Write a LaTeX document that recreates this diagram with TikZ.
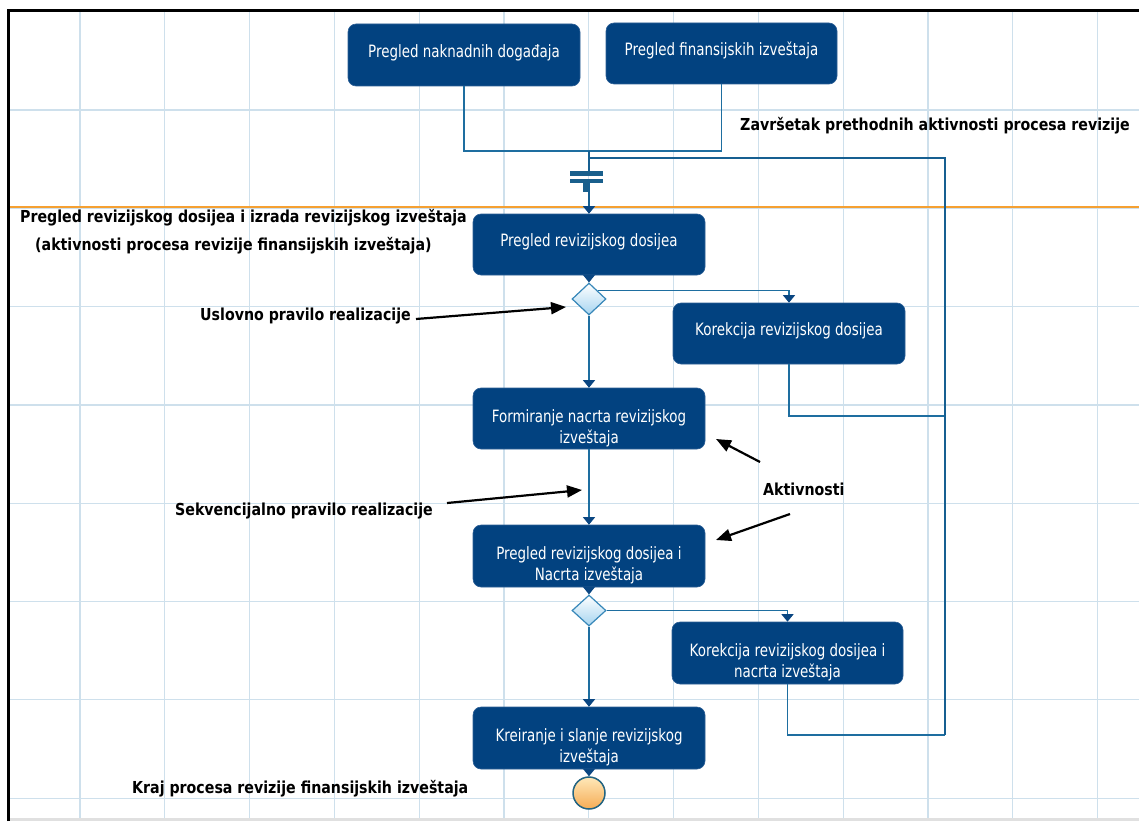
\documentclass[tikz,border=0pt]{standalone}
\usepackage{fontspec}
\usetikzlibrary{arrows.meta,shapes.geometric,calc}
\newfontfamily\nodefont[FakeStretch=0.79]{DejaVu Sans}
\newfontfamily\notefont[FakeStretch=0.86]{DejaVu Sans Bold}

% activity text, shifted vertically inside its box while keeping its size
\newcommand{\acttext}[2]{\raisebox{#1}[\height][\depth]{\begin{tabular}{@{}c@{}}#2\end{tabular}}}

\definecolor{actfill}{RGB}{2,66,128}
\definecolor{actedge}{RGB}{45,95,150}
\definecolor{flow}{RGB}{30,110,160}
\definecolor{rail}{RGB}{22,95,145}
\definecolor{tipc}{RGB}{10,70,130}
\definecolor{gridc}{RGB}{206,224,236}
\definecolor{lanec}{RGB}{245,160,50}
\definecolor{gatefill}{RGB}{165,212,240}
\definecolor{gateedge}{RGB}{55,135,185}
\definecolor{endtop}{RGB}{255,232,185}
\definecolor{endbot}{RGB}{245,172,85}
\definecolor{endedge}{RGB}{35,100,130}
\definecolor{syncc}{RGB}{25,95,140}

\tikzset{
  act/.style={rectangle, rounded corners=8pt, fill=actfill, draw=actedge,
    line width=0.6pt, text=white, align=center, inner sep=0pt,
    minimum width=232pt, minimum height=62pt,
    font=\nodefont\fontsize{17}{21}\selectfont},
  gate/.style={diamond, aspect=1.06, minimum width=34pt, minimum height=32pt,
    inner sep=0pt, top color=white, bottom color=gatefill, draw=gateedge,
    line width=1.2pt},
  endnode/.style={circle, minimum size=32pt, inner sep=0pt, top color=endtop,
    bottom color=endbot, draw=endedge, line width=1.5pt},
  flowline/.style={draw=flow, line width=1.1pt},
  railline/.style={draw=rail, line width=1.3pt},
  flowarrow/.style={flowline, -{Triangle[length=7.5pt,width=12pt,color=tipc]}},
  note/.style={font=\notefont\fontsize{16.5}{28}\selectfont, inner sep=0pt,
    text=black},
  notearrow/.style={draw=black, line width=2.2pt,
    -{Triangle[length=15pt,width=12pt]}},
  gridline/.style={draw=gridc, line width=1.2pt}
}

\begin{document}
\begin{tikzpicture}[x=1pt,y=-1pt]
  % canvas
  \fill[white] (0,0) rectangle (1139,821);
  \useasboundingbox (0,0) rectangle (1139,821);

  % background grid
  \foreach \k in {0,...,12}
    \draw[gridline] ({80+84.8*\k},12) -- ({80+84.8*\k},818);
  \foreach \k in {0,...,7}
    \draw[gridline] (10,{110+98.3*\k}) -- (1139,{110+98.3*\k});

  % lane separator
  \draw[draw=lanec, line width=1.8pt] (10,207) -- (1139,207);

  % frame
  \fill[black!12] (10,818) rectangle (1139,821);
  \draw[line width=3pt] (8.5,821) -- (8.5,10.5) -- (1139,10.5);

  % activities
  \node[act] (n1) at (464,55) {\acttext{2pt}{Pregled naknadnih događaja}};
  \node[act, minimum width=231pt, minimum height=61pt] (n2) at (721.5,53.5) {\acttext{2pt}{Pregled finansijskih izveštaja}};
  \node[act, minimum height=61pt] (n3) at (589,244.5) {\acttext{2pt}{Pregled revizijskog dosijea}};
  \node[act, minimum height=61pt] (n5) at (789,333.5) {\acttext{2pt}{Korekcija revizijskog dosijea}};
  \node[act, minimum height=61pt] (n6) at (589,418.5) {\acttext{-10pt}{Formiranje nacrta revizijskog\\izveštaja}};
  \node[act] (n7) at (589,556) {\acttext{-10pt}{Pregled revizijskog dosijea i\\Nacrta izveštaja}};
  \node[act, minimum width=231pt] (n9) at (787.5,653) {\acttext{-10pt}{Korekcija revizijskog dosijea i\\nacrta izveštaja}};
  \node[act] (n10) at (589,738) {\acttext{-10pt}{Kreiranje i slanje revizijskog\\izveštaja}};

  % gateways and end event
  \node[gate] (d1) at (589,299) {};
  \node[gate, minimum height=31pt] (d2) at (589,610.5) {};
  \node[endnode] (endc) at (589,793) {};

  % synchronisation bar
  \node[inner sep=0pt, minimum width=33pt, minimum height=12pt] (sync) at (586.5,177) {};
  \fill[syncc] (570,171) rectangle (603,176);
  \fill[syncc] (570,179) rectangle (603,183);
  \fill[syncc] (583,183) rectangle (590,192);

  % junction points
  \coordinate (jn) at (589,151);
  \coordinate (jt) at (589,158);
  \coordinate (railtop) at (945,158);
  \coordinate (rail1) at (945,416);
  \coordinate (rail2) at (945,735);

  % incoming flows into the bar
  \draw[flowline] (n1.south) |- (jn) -| (n2.south);
  \draw[railline] (jn) -- (jn |- sync.north);
  \draw[flowarrow, draw=rail] (jn |- sync.south) -- (n3.north);

  % return flows from the corrections
  \draw[flowline] (n5.south) |- (rail1);
  \draw[flowline] (n9.south) |- (rail2);
  \draw[railline] (rail2) -- (railtop) -- (jt);

  % main sequence
  \draw[flowarrow] (n3.south) -- (d1.north);
  \draw[flowarrow] (d1.north east) -| (n5.north);
  \draw[flowarrow] (d1.south) -- (n6.north);
  \draw[flowarrow] (n6.south) -- (n7.north);
  \draw[flowarrow] (n7.south) -- (d2.north);
  \draw[flowarrow] (d2.east) -| (n9.north);
  \draw[flowarrow] (d2.south) -- (n10.north);
  \draw[flowarrow] (n10.south) -- (endc.north);

  % annotations
  \node[note, anchor=west] (zavrsetak) at (740,126) {Završetak prethodnih aktivnosti procesa revizije};
  \node[note, align=left, anchor=west] (lane) at (20,232) {Pregled revizijskog dosijea i izrada revizijskog izveštaja\\\hspace*{15pt}(aktivnosti procesa revizije finansijskih izveštaja)};
  \node[note, anchor=west] (uslovno) at (200,316) {Uslovno pravilo realizacije};
  \node[note, anchor=west] (sekv) at (175,511) {Sekvencijalno pravilo realizacije};
  \node[note, anchor=west] (aktiv) at (763,489) {Aktivnosti};
  \node[note, anchor=west] (kraj) at (132,789) {Kraj procesa revizije finansijskih izveštaja};

  % annotation pointers
  \coordinate (u0) at (416,319);
  \coordinate (u1) at (566,307);
  \coordinate (s0) at (447,503);
  \coordinate (s1) at (582,490);
  \coordinate (a0) at (760,462);
  \coordinate (a1) at (716,439);
  \coordinate (b0) at (790,514);
  \coordinate (b1) at (716,540);
  \draw[notearrow] (u0) -- (u1);
  \draw[notearrow] (s0) -- (s1);
  \draw[notearrow] (a0) -- (a1);
  \draw[notearrow] (b0) -- (b1);
\end{tikzpicture}
\end{document}
